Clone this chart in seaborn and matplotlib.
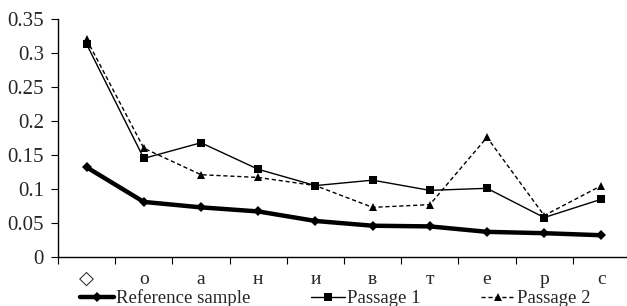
import matplotlib
matplotlib.use("Agg")
import matplotlib.pyplot as plt
import seaborn as sns
import pandas as pd
import numpy as np

categories = ["◇", "о", "а", "н", "и", "в", "т", "е", "р", "с"]
reference_sample = [0.132, 0.081, 0.073, 0.067, 0.053, 0.046, 0.045, 0.037, 0.035, 0.032]
passage_1 = [0.313, 0.145, 0.168, 0.129, 0.105, 0.113, 0.098, 0.101, 0.058, 0.085]
passage_2 = [0.320, 0.160, 0.121, 0.117, 0.105, 0.073, 0.077, 0.176, 0.061, 0.105]
y_ticks = [0, 0.05, 0.1, 0.15, 0.2, 0.25, 0.3, 0.35]
y_tick_labels = ["0", "0.05", "0.1", "0.15", "0.2", "0.25", "0.3", "0.35"]

sns.set_style("white")
plt.rcParams["font.family"] = ["Liberation Serif", "DejaVu Sans"]

fig = plt.figure(figsize=(6.27, 3.06), dpi=100)
W, H = 627, 306
x0, x1, ytop, ybot = 58, 630, 19, 257
ax = fig.add_axes([x0 / W, (H - ybot) / H, (x1 - x0) / W, (ybot - ytop) / H])

pos = np.arange(len(categories))
df = pd.DataFrame({"x": pos, "ref": reference_sample, "p1": passage_1, "p2": passage_2})

sns.lineplot(data=df, x="x", y="ref", ax=ax, color="black", linewidth=3.2,
             marker="D", markersize=5, markeredgewidth=0, label="Reference sample")
sns.lineplot(data=df, x="x", y="p1", ax=ax, color="black", linewidth=1.0,
             marker="s", markersize=6, markeredgewidth=0, label="Passage 1")
sns.lineplot(data=df, x="x", y="p2", ax=ax, color="black", linewidth=1.0,
             linestyle=(0, (3, 2)), marker="^", markersize=5.5, markeredgewidth=0,
             label="Passage 2")

ax.set_xlim(-0.5, len(categories) - 0.5)
ax.set_ylim(0, 0.35)
ax.set_xlabel("")
ax.set_ylabel("")
ax.set_yticks(y_ticks)
ax.set_yticklabels(y_tick_labels, fontsize=15)
ax.set_xticks(pos)
ax.set_xticklabels(categories, fontsize=14)
ax.set_xticks(np.arange(-0.5, len(categories), 1.0), minor=True)
ax.tick_params(axis="x", which="major", length=0, pad=10)
ax.tick_params(axis="x", which="minor", length=5, width=0.8, color="black", direction="out", bottom=True)
ax.tick_params(axis="y", which="major", length=5, width=0.8, color="black", direction="out", left=True, pad=5)

for s in ["top", "right"]:
    ax.spines[s].set_visible(False)
for s in ["left", "bottom"]:
    ax.spines[s].set_color("black")
    ax.spines[s].set_linewidth(1.0)
ax.grid(False)

handles, labels = ax.get_legend_handles_labels()
ax.get_legend().remove()
fig.legend(handles, labels, ncol=3, loc="center", bbox_to_anchor=(0.535, 1 - 298.5 / H),
           frameon=False, fontsize=13.5, handlelength=1.8, handletextpad=0.15,
           columnspacing=3.2, borderaxespad=0, borderpad=0)

fig.savefig("out.png", dpi=100)
